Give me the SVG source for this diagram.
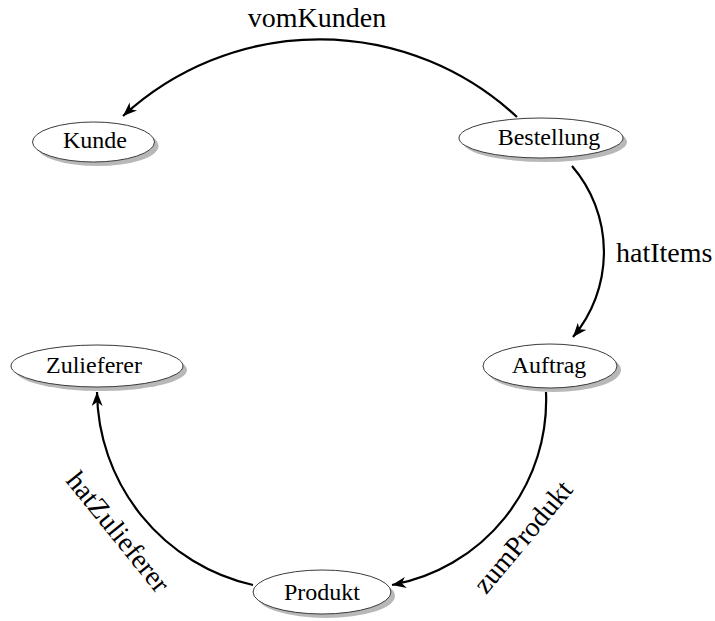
<svg xmlns="http://www.w3.org/2000/svg" width="715" height="621" viewBox="0 0 715 621">
  <style>
    .shadow { fill: #b8b8b8; stroke: none; }
    .node { fill: #ffffff; stroke: #3a3a3a; stroke-width: 1; }
    .nlabel { font-family: "Liberation Serif", "Times New Roman", serif; font-size: 24px; fill: #000; text-anchor: middle; }
    .elabel { font-family: "Liberation Serif", "Times New Roman", serif; font-size: 28px; fill: #000; }
    .edge { fill: none; stroke: #000; stroke-width: 2.2; marker-end: url(#arrow); }
  </style>
  <defs>
    <marker id="arrow" markerUnits="userSpaceOnUse" markerWidth="18" markerHeight="14" refX="14" refY="5.5" orient="auto">
      <path d="M0,0 L14,5.5 L0,11 L4,5.5 z" fill="#000"/>
    </marker>
  </defs>
  <rect width="715" height="621" fill="#ffffff"/>

  <g id="connectors">
    <path class="edge" d="M517,117 A290,290 0 0 0 123,116"/>
    <path class="edge" d="M572,166 A132,132 0 0 1 573,337"/>
    <path class="edge" d="M546,392 A188,188 0 0 1 392,585"/>
    <path class="edge" d="M253,585 A200,200 0 0 1 97,392"/>
    <text class="elabel" x="317" y="27" text-anchor="middle">vomKunden</text>
    <text class="elabel" x="616" y="262">hatItems</text>
    <text class="elabel" text-anchor="middle" y="9" transform="translate(523,537) rotate(-50)">zumProdukt</text>
    <text class="elabel" text-anchor="middle" y="9" transform="translate(118,532) rotate(51)">hatZulieferer</text>
  </g>

  <g id="kunde">
    <ellipse class="shadow" cx="97.5" cy="146" rx="61" ry="20"/>
    <ellipse class="node" cx="93.5" cy="142" rx="61" ry="20"/>
    <text class="nlabel" x="95" y="148">Kunde</text>
  </g>
  <g id="bestellung">
    <ellipse class="shadow" cx="545" cy="142" rx="82" ry="20"/>
    <ellipse class="node" cx="541" cy="138" rx="82" ry="20"/>
    <text class="nlabel" x="549" y="145">Bestellung</text>
  </g>
  <g id="zulieferer">
    <ellipse class="shadow" cx="101" cy="370" rx="86" ry="21"/>
    <ellipse class="node" cx="97" cy="366" rx="86" ry="21"/>
    <text class="nlabel" x="94" y="373">Zulieferer</text>
  </g>
  <g id="auftrag">
    <ellipse class="shadow" cx="554" cy="370" rx="67" ry="22"/>
    <ellipse class="node" cx="550" cy="366" rx="67" ry="22"/>
    <text class="nlabel" x="549" y="373">Auftrag</text>
  </g>
  <g id="produkt">
    <ellipse class="shadow" cx="326" cy="596" rx="69" ry="22"/>
    <ellipse class="node" cx="322" cy="592" rx="69" ry="22"/>
    <text class="nlabel" x="322" y="600">Produkt</text>
  </g>
</svg>
